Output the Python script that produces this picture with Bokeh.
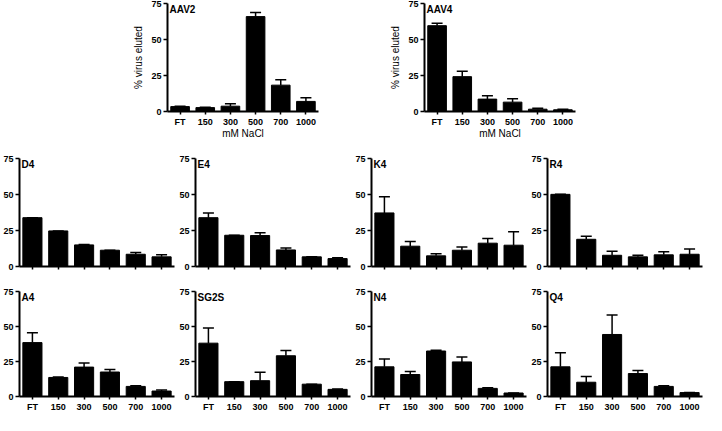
from bokeh.plotting import figure
from bokeh.models import (ColumnDataSource, Whisker, TeeHead, Label, FixedTicker,
                          Range1d, FactorRange, Spacer)
from bokeh.layouts import row, column
from bokeh.embed import file_html
from bokeh.resources import INLINE

# ---------------- data ----------------
salt = ["FT", "150", "300", "500", "700", "1000"]
y_ticks = [0, 25, 50, 75]
y_max = 75

aav2_mean = [3.4, 2.7, 3.7, 65.9, 18.3, 7.0]
aav2_err = [0.3, 0.3, 1.6, 2.8, 3.7, 2.5]
aav4_mean = [59.6, 24.2, 8.6, 6.5, 1.6, 1.2]
aav4_err = [1.6, 3.7, 2.3, 2.3, 0.7, 0.3]

d4_mean = [33.9, 24.7, 15.0, 11.3, 8.5, 6.7]
d4_err = [0.0, 0.0, 0.3, 0.0, 1.2, 1.4]
e4_mean = [33.9, 21.7, 21.5, 11.5, 6.7, 5.5]
e4_err = [3.3, 0.0, 2.0, 1.4, 0.0, 0.5]
k4_mean = [37.2, 14.1, 7.4, 11.3, 16.2, 14.8]
k4_err = [11.3, 3.2, 1.4, 2.3, 3.2, 9.4]
r4_mean = [50.1, 18.9, 7.8, 6.7, 8.1, 8.5]
r4_err = [0.0, 2.1, 2.8, 1.1, 2.1, 3.7]

a4_mean = [38.5, 13.6, 21.0, 17.5, 7.2, 3.9]
a4_err = [7.0, 0.3, 3.0, 1.7, 0.4, 0.7]
sg2s_mean = [38.1, 10.6, 11.3, 29.1, 8.8, 5.1]
sg2s_err = [10.8, 0.0, 6.0, 3.7, 0.0, 0.3]
n4_mean = [21.2, 15.7, 32.5, 24.7, 5.8, 2.5]
n4_err = [5.6, 2.1, 0.5, 3.5, 0.4, 0.0]
q4_mean = [21.2, 10.2, 44.3, 16.4, 7.2, 2.8]
q4_err = [10.0, 4.1, 13.9, 2.1, 0.4, 0.0]

y_axis_label = "% virus eluted"
x_axis_label = "mM NaCl"

FONT = "Liberation Sans"


def panel(name, mean, err, width, height, left, right, top, bottom,
          tick_labels=True, axis_labels=False):
    p = figure(x_range=FactorRange(*salt), y_range=Range1d(0, y_max),
               width=width, height=height, output_backend="svg",
               toolbar_location=None,
               min_border_left=left, min_border_right=right,
               min_border_top=top, min_border_bottom=bottom)
    p.outline_line_color = None
    p.grid.visible = False
    p.background_fill_color = "white"
    p.border_fill_color = "white"

    src = ColumnDataSource(dict(x=salt, top=mean,
                                upper=[m + e for m, e in zip(mean, err)]))
    p.vbar(x="x", top="top", width=0.74, source=src,
           fill_color="black", line_color="black")
    w = Whisker(source=src, base="x", upper="upper", lower="top",
                line_color="black", line_width=1.5,
                upper_head=TeeHead(size=11, line_color="black", line_width=1.5),
                lower_head=None)
    p.add_layout(w)

    p.yaxis.ticker = FixedTicker(ticks=y_ticks)
    for ax in (p.xaxis[0], p.yaxis[0]):
        ax.axis_line_width = 2
        ax.axis_line_color = "black"
        ax.major_tick_line_width = 1.5
        ax.major_tick_line_color = "black"
        ax.major_tick_out = 4
        ax.major_tick_in = 0
        ax.minor_tick_line_color = None
        ax.major_label_text_font = FONT
        ax.major_label_text_font_style = "bold"
        ax.major_label_text_font_size = "9px"
        ax.major_label_text_color = "black"
        ax.major_label_standoff = 2
    p.xaxis.major_tick_out = 3
    if not tick_labels:
        p.xaxis.major_label_text_font_size = "0px"
        p.xaxis.major_label_text_alpha = 0
    if axis_labels:
        p.yaxis.axis_label = y_axis_label
        p.xaxis.axis_label = x_axis_label
        for ax in (p.xaxis[0], p.yaxis[0]):
            ax.axis_label_text_font = FONT
            ax.axis_label_text_font_style = "normal"
            ax.axis_label_text_font_size = "10px"
            ax.axis_label_text_color = "black"
        p.xaxis.axis_label_standoff = -2
        p.yaxis.axis_label_standoff = 4

    p.add_layout(Label(x=0, y=y_max, text=name, x_offset=2, y_offset=0,
                       text_baseline="top", text_align="left",
                       text_font=FONT, text_font_style="bold",
                       text_font_size="10px", text_color="black"))
    return p


# top row
p_aav2 = panel("AAV2", aav2_mean, aav2_err, 257, 148, 30, 69, 3, 37, True, True)
p_aav4 = panel("AAV4", aav4_mean, aav4_err, 198, 148, 30, 10, 3, 37, True, True)
top_row = row(Spacer(width=130, height=148), p_aav2, p_aav4)

mid = [("D4", d4_mean, d4_err), ("E4", e4_mean, e4_err),
       ("K4", k4_mean, k4_err), ("R4", r4_mean, r4_err)]
bot = [("A4", a4_mean, a4_err), ("SG2S", sg2s_mean, sg2s_err),
       ("N4", n4_mean, n4_err), ("Q4", q4_mean, q4_err)]

mid_row = row(*[panel(n, m, e, 176, 133, 16, 2, 10, 15, False, False) for n, m, e in mid])
bot_row = row(*[panel(n, m, e, 176, 133, 16, 2, 10, 16, True, False) for n, m, e in bot])

layout = column(top_row, mid_row, bot_row)

open("out.html", "w").write(file_html(layout, INLINE))
